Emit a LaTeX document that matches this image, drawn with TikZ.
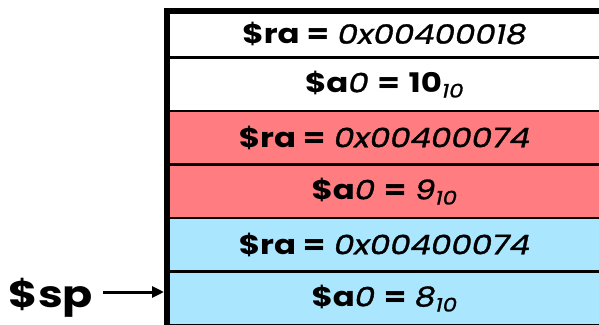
\documentclass[tikz,border=0pt]{standalone}
\usepackage{fontspec}
\setmainfont{Poppins}[FakeStretch=1.2]
\usetikzlibrary{arrows.meta}
\definecolor{rowred}{RGB}{255,124,128}
\definecolor{rowblue}{RGB}{170,230,254}
\tikzset{
  cell/.style={draw=black, line width=2.5pt, rectangle, minimum width=435pt, inner sep=0pt, font=\fontsize{27}{31}\selectfont},
  border/.style={line width=6pt, line cap=rect},
  pointer/.style={line width=3pt, -{Triangle[length=12pt,width=11pt]}}
}
\newcommand{\reg}[1]{\textbf{#1}}
\newcommand{\val}[1]{{\itshape\addfontfeature{FakeBold=1.2}#1}}
\newcommand{\sub}[1]{\textsubscript{\val{#1}}}
\begin{document}
\begin{tikzpicture}[x=1pt,y=-1pt]
\useasboundingbox (0,0) rectangle (599,324);
\node[cell, fill=white, minimum height=46.5pt] (r1) at (384.5,34.25)  {\reg{\$ra =} \val{0x00400018}};
\node[cell, fill=white, minimum height=53.5pt]   (r2) at (384.5,84.25)  {\reg{\$a}\val{0} \reg{=} \reg{10}\sub{10}};
\node[cell, fill=rowred, minimum height=53.5pt]  (r3) at (384.5,137.75) {\reg{\$ra =} \val{0x00400074}};
\node[cell, fill=rowred, minimum height=53.5pt]  (r4) at (384.5,191.25) {\reg{\$a}\val{0} \reg{=} \val{9}\sub{10}};
\node[cell, fill=rowblue, minimum height=53.5pt] (r5) at (384.5,244.75) {\reg{\$ra =} \val{0x00400074}};
\node[cell, fill=rowblue, minimum height=53.5pt] (r6) at (384.5,298.25) {\reg{\$a}\val{0} \reg{=} \val{8}\sub{10}};
\coordinate (tl) at (167,11);
\coordinate (tr) at (605,11);
\coordinate (bl) at (167,330);
\draw[border] (bl) -- (tl) -- (tr);
\node[font=\fontsize{37}{41}\selectfont\bfseries, anchor=base] (sp) at (51,307) {\$sp};
\coordinate (spt) at (164,292);
\coordinate (spf) at (103,292);
\draw[pointer] (spf) -- (spt);
\end{tikzpicture}
\end{document}
